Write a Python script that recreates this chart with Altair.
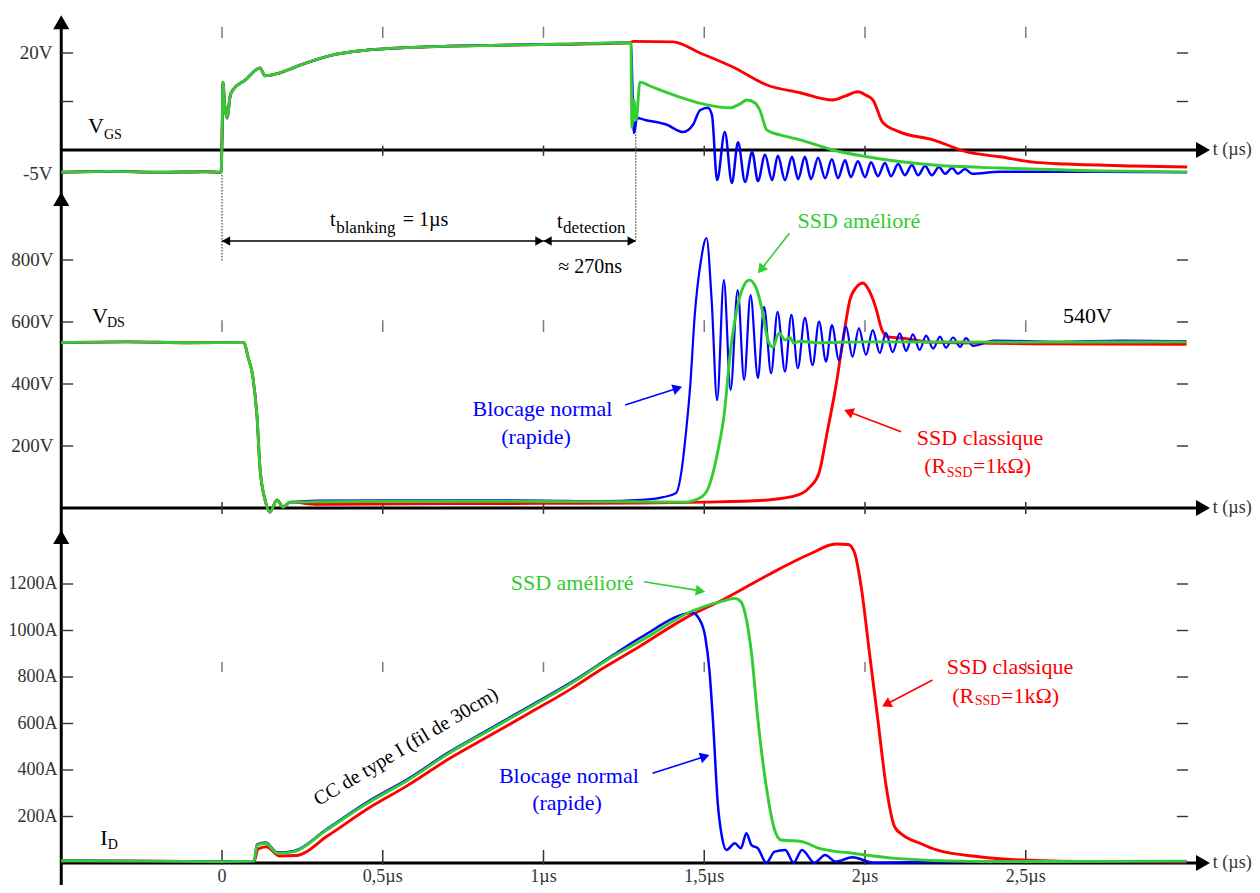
import math
import altair as alt
import pandas as pd

# ------------------------------------------------------------------ data
# time in µs ; V_GS in V ; V_DS in V ; I_D in A
vgs_common = [(-0.5, -4.6), (-0.35, -4.4), (-0.2, -4.6), (-0.05, -4.5), (-0.003, -4.6),
              (0.0, 2.0), (0.003, 14.0), (0.008, 9.5), (0.016, 6.6), (0.025, 11.0),
              (0.034, 12.4), (0.072, 14.4), (0.118, 16.9), (0.134, 15.3), (0.180, 15.9),
              (0.243, 17.5), (0.345, 19.6), (0.451, 20.6), (0.607, 21.2), (0.865, 21.6),
              (1.05, 21.8), (1.269, 22.1)]
vgs_red_tail = [(1.28, 22.4), (1.403, 22.3), (1.487, 20.0), (1.589, 17.1), (1.695, 13.4),
                (1.798, 11.8), (1.900, 10.3), (1.938, 11.1), (1.978, 12.0), (2.003, 11.3),
                (2.025, 10.3), (2.056, 5.6), (2.109, 3.7), (2.212, 2.1), (2.317, -0.4),
                (2.420, -1.4), (2.523, -2.5), (2.628, -2.9), (2.834, -3.3), (3.002, -3.5)]
vgs_green_tail = [(1.272, 22.0), (1.275, 4.7), (1.281, 10.3), (1.288, 6.2), (1.300, 14.0),
                  (1.331, 13.2), (1.362, 12.4), (1.434, 10.7), (1.509, 9.3), (1.580, 8.7),
                  (1.611, 9.5), (1.633, 10.3), (1.658, 9.7), (1.673, 8.2), (1.695, 4.1),
                  (1.736, 3.1), (1.798, 2.1), (1.900, 0.0), (2.006, -1.4), (2.212, -3.1),
                  (2.420, -3.7), (2.731, -4.3), (3.002, -4.5)]
vgs_blue_tail = [(1.272, 22.0), (1.281, 3.5), (1.291, 6.6), (1.316, 6.2), (1.384, 5.2),
                 (1.434, 3.7), (1.465, 5.2), (1.487, 8.2), (1.511, 8.7), (1.524, 7.2),
                 (1.540, -6.2), (1.564, 3.7), (1.586, -6.8), (1.605, 1.6), (1.627, -6.6),
                 (1.649, -0.4), (1.667, -6.4), (1.689, -1.0), (1.711, -6.2), (1.729, -1.2),
                 (1.751, -6.2), (1.773, -1.4), (1.792, -6.0), (1.813, -1.4), (1.832, -6.0),
                 (1.854, -1.6), (1.876, -5.8), (1.897, -1.9), (1.916, -5.8), (1.938, -2.1),
                 (1.956, -5.6), (1.978, -2.3), (2.000, -5.6), (2.019, -2.5), (2.040, -5.4),
                 (2.062, -2.7), (2.081, -5.4), (2.103, -2.9), (2.124, -5.2), (2.146, -3.1),
                 (2.165, -5.2), (2.187, -3.3), (2.208, -5.2), (2.230, -3.5), (2.249, -4.9),
                 (2.271, -3.7), (2.289, -4.9), (2.311, -3.9), (2.333, -4.9), (2.420, -4.5),
                 (2.731, -4.5), (3.002, -4.6)]

vds_common = [(-0.5, 534), (-0.3, 536), (-0.1, 533), (0.068, 534), (0.081, 487), (0.096, 423),
              (0.109, 294), (0.118, 132), (0.134, 26), (0.149, -13), (0.171, 26), (0.190, 3),
              (0.212, 19)]
vds_blue_tail = [(0.3, 24), (0.7, 25), (1.0, 24), (1.176, 22), (1.306, 26), (1.372, 35),
                 (1.412, 48), (1.431, 132), (1.443, 242), (1.457, 403), (1.470, 616),
                 (1.490, 800), (1.507, 871), (1.523, 671), (1.540, 348), (1.561, 735),
                 (1.582, 381), (1.604, 703), (1.624, 413), (1.644, 687), (1.667, 419),
                 (1.686, 649), (1.708, 435), (1.728, 633), (1.751, 440), (1.771, 623),
                 (1.791, 451), (1.813, 613), (1.837, 461), (1.857, 601), (1.879, 472),
                 (1.897, 590), (1.919, 477), (1.941, 585), (1.961, 488), (1.981, 580),
                 (2.003, 494), (2.024, 574), (2.046, 500), (2.065, 565), (2.086, 503),
                 (2.108, 563), (2.128, 507), (2.149, 560), (2.170, 510), (2.190, 556),
                 (2.212, 514), (2.233, 553), (2.252, 517), (2.274, 550), (2.296, 520),
                 (2.314, 548), (2.336, 523), (2.4, 540), (2.6, 536), (2.8, 540), (3.0, 538)]
vds_green_tail = [(0.3, 20), (0.7, 22), (1.0, 21), (1.3, 20), (1.437, 19), (1.490, 35),
                  (1.514, 68), (1.543, 187), (1.561, 294), (1.582, 510), (1.608, 671),
                  (1.624, 719), (1.640, 735), (1.660, 713), (1.680, 639), (1.698, 542),
                  (1.713, 519), (1.733, 565), (1.751, 542), (1.767, 550), (1.778, 532),
                  (1.798, 538), (1.85, 533), (2.0, 536), (2.5, 535), (3.0, 536)]
vds_red_tail = [(0.3, 12), (0.7, 14), (1.0, 15), (1.3, 16), (1.5, 19), (1.698, 26),
                (1.792, 42), (1.829, 68), (1.857, 113), (1.882, 242), (1.909, 390),
                (1.935, 565), (1.953, 671), (1.974, 713), (1.994, 726), (2.012, 703),
                (2.033, 648), (2.053, 574), (2.072, 552), (2.118, 548), (2.2, 535),
                (2.5, 530), (3.0, 528)]

id_common = [(-0.5, 10), (-0.2, 8), (0.0, 6), (0.1, 8)]
id_blue_tail = [(0.109, 80), (0.135, 88), (0.173, 45), (0.224, 52), (0.325, 145), (0.452, 262),
                (0.579, 362), (0.706, 477), (0.833, 577), (0.960, 677), (1.087, 778),
                (1.214, 892), (1.306, 973), (1.464, 1075), (1.484, 1050), (1.503, 973),
                (1.516, 830), (1.527, 615), (1.542, 257), (1.555, 113), (1.569, 56),
                (1.595, 85), (1.614, 63), (1.631, 128), (1.647, 77), (1.667, 63), (1.693, 1),
                (1.719, 49), (1.752, 56), (1.778, 1), (1.804, 56), (1.843, 1), (1.876, 34),
                (1.909, 6), (1.961, 25), (2.027, 1), (2.22, 5), (2.6, 6), (3.0, 6)]
id_green_tail = [(0.109, 77), (0.135, 85), (0.173, 42), (0.224, 49), (0.325, 142), (0.452, 257),
                 (0.579, 357), (0.706, 472), (0.833, 572), (0.960, 672), (1.087, 773),
                 (1.214, 887), (1.307, 959), (1.464, 1085), (1.569, 1131), (1.595, 1138),
                 (1.614, 1124), (1.627, 1074), (1.647, 902), (1.667, 615), (1.693, 328),
                 (1.719, 142), (1.739, 99), (1.804, 92), (1.857, 63), (1.961, 42),
                 (2.092, 20), (2.354, 6), (3.0, 8)]
id_red_tail = [(0.112, 60), (0.138, 70), (0.178, 30), (0.23, 32), (0.33, 118), (0.452, 232),
               (0.579, 335), (0.706, 448), (0.833, 548), (0.960, 648), (1.087, 750),
               (1.176, 830), (1.30, 932), (1.437, 1050), (1.569, 1140), (1.700, 1240),
               (1.830, 1330), (1.909, 1372), (1.948, 1370), (1.968, 1332), (1.988, 1189),
               (2.014, 902), (2.040, 615), (2.066, 328), (2.092, 156), (2.118, 120),
               (2.171, 85), (2.223, 56), (2.354, 27), (2.485, 13), (2.7, 6), (3.0, 4)]

# axis ticks and labels
t_ticks = [0.0, 0.5, 1.0, 1.5, 2.0, 2.5]
t_tick_labels = ["0", "0,5µs", "1µs", "1,5µs", "2µs", "2,5µs"]
vgs_ticks = [20, 10]
vgs_tick_labels = [(20, "20V"), (-5, "-5V")]
vds_ticks = [800, 600, 400, 200]
vds_tick_labels = [(800, "800V"), (600, "600V"), (400, "400V"), (200, "200V")]
id_ticks = [1200, 1000, 800, 600, 400, 200]
id_tick_labels = [(1200, "1200A"), (1000, "1000A"), (800, "800A"),
                  (600, "600A"), (400, "400A"), (200, "200A")]

# ------------------------------------------------------------------ styling
FONT = "Liberation Serif"
BLACK = "#000000"
GREY_TXT = "#333333"
GREY_TICK = "#7a7a7a"
RED, BLUE, GREEN = "#ff0000", "#0000ff", "#33cc33"

X_DOMAIN = [-0.5, 3.0]
X_RANGE = [53.25, 1178.5]
PANEL = {"vgs": ([0, 20], [142, 45]),
         "vds": ([0, 800], [500, 252]),
         "id": ([0, 1200], [855, 576])}
PX_T = (X_RANGE[1] - X_RANGE[0]) / (X_DOMAIN[1] - X_DOMAIN[0])


def px_v(p):
    d, r = PANEL[p]
    return (r[0] - r[1]) / (d[1] - d[0])


def X():
    return alt.X("t:Q", scale=alt.Scale(domain=X_DOMAIN, range=X_RANGE, nice=False, zero=False),
                 axis=None)


def Y(p):
    d, r = PANEL[p]
    return alt.Y("v:Q", scale=alt.Scale(domain=d, range=r, nice=False, zero=False), axis=None)


layers = []


def line(p, pts, color, width=2.9):
    df = pd.DataFrame(pts, columns=["t", "v"])
    df["i"] = range(len(df))
    layers.append(alt.Chart(df).mark_line(color=color, strokeWidth=width, strokeJoin="round",
                                          interpolate="monotone")
                  .encode(x=X(), y=Y(p), order=alt.Order("i:Q")))


def segs(p, items, color, width, dash=None):
    df = pd.DataFrame(items, columns=["t", "t2", "v", "v2"])
    kw = dict(color=color, strokeWidth=width)
    if dash:
        kw["strokeDash"] = dash
    layers.append(alt.Chart(df).mark_rule(**kw)
                  .encode(x=X(), x2="t2:Q", y=Y(p), y2="v2:Q"))


def texts(p, items, size, color=BLACK, align="center", angle=None):
    df = pd.DataFrame(items, columns=["t", "v", "label"])
    kw = dict(font=FONT, fontSize=size, color=color, align=align, baseline="middle")
    if angle is not None:
        kw["angle"] = angle
    layers.append(alt.Chart(df).mark_text(**kw).encode(x=X(), y=Y(p), text="label:N"))


def marks(p, items, shape, size, color, angle=0):
    df = pd.DataFrame(items, columns=["t", "v"])
    layers.append(alt.Chart(df).mark_point(shape=shape, size=size, filled=True, color=color,
                                           opacity=1, strokeWidth=0, angle=angle)
                  .encode(x=X(), y=Y(p)))


def head_h(size):
    return math.sqrt(3) / 4 * math.sqrt(size)


def arrow(p, start, end, color, size=120, width=1.6):
    pv = px_v(p)
    dx = (end[0] - start[0]) * PX_T
    dy = -(end[1] - start[1]) * pv
    L = math.hypot(dx, dy)
    ux, uy = dx / L, dy / L
    h = head_h(size)
    c = (end[0] - ux * h / PX_T, end[1] + uy * h / pv)
    ang = math.degrees(math.atan2(ux, -uy)) % 360
    segs(p, [(start[0], c[0], start[1], c[1])], color, width)
    marks(p, [c], "triangle-up", size, color, angle=ang)


# ------------------------------------------------------------------ axes
AX_SIZE = 260
AX_H = head_h(AX_SIZE)
T_END = 3.04
T_TIP = 3.073
# vertical axis, continuous through the three panels
segs("vgs", [(-0.5, -0.5, 26.5, -153.2)], BLACK, 3)
marks("vgs", [(-0.5, 27.8 - AX_H / px_v("vgs"))], "triangle-up", AX_SIZE, BLACK)
marks("vds", [(-0.5, 1019 - AX_H / px_v("vds"))], "triangle-up", AX_SIZE, BLACK)
marks("id", [(-0.5, 1432 - AX_H / px_v("id"))], "triangle-up", AX_SIZE, BLACK)

panel_info = {
    "vgs": dict(ticks=vgs_ticks, labels=vgs_tick_labels, up=(25.4, 23.1), cross=(0.9, -1.2),
                lab_t=-0.527, lab_size=19),
    "vds": dict(ticks=vds_ticks, labels=vds_tick_labels, up=(606, 568), cross=(19, -19),
                lab_t=-0.524, lab_size=19),
    "id": dict(ticks=id_ticks, labels=id_tick_labels, up=(864, 821), cross=(56, -6),
               lab_t=-0.512, lab_size=18),
}
for p, info in panel_info.items():
    # horizontal time axis with arrow
    segs(p, [(-0.5, T_END, 0, 0)], BLACK, 3)
    marks(p, [(T_TIP - AX_H / PX_T, 0)], "triangle-right", AX_SIZE, BLACK)
    texts(p, [(3.082, 0, "t (µs)")], 18, GREY_TXT, align="left")
    # y ticks left and right
    segs(p, [(-0.5, -0.463, v, v) for v in info["ticks"]], GREY_TXT, 1.4)
    segs(p, [(2.970, 3.005, v, v) for v in info["ticks"]], GREY_TXT, 1.4)
    texts(p, [(info["lab_t"], v, s) for v, s in info["labels"]], info["lab_size"], GREY_TXT,
          align="right")
    # small vertical time markers
    u1, u2 = info["up"]
    c1, c2 = info["cross"]
    segs(p, [(t, t, u1, u2) for t in t_ticks], GREY_TICK, 1.5)
    segs(p, [(t, t, c1, c2) for t in t_ticks], GREY_TXT, 1.5)

# time labels under the bottom axis
texts("id", [(t, -60, s) for t, s in zip(t_ticks, t_tick_labels)], 18, GREY_TXT)

# signal names
texts("vgs", [(-0.417, 4.85, "V")], 22, align="left")
texts("vgs", [(-0.367, 3.1, "GS")], 14, align="left")
texts("vds", [(-0.404, 620, "V")], 22, align="left")
texts("vds", [(-0.358, 597, "DS")], 14, align="left")
texts("id", [(-0.379, 108, "I")], 22, align="left")
texts("id", [(-0.355, 77, "D")], 14, align="left")

# ------------------------------------------------------------------ blanking / detection
segs("vds", [(0.0, 0.0, 1074, 794), (1.287, 1.287, 1235, 865)], "#444444", 1.2, dash=[1.5, 1.5])
DA = 90
segs("vds", [(0.0, 1.0, 861, 861), (1.0, 1.287, 861, 861)], BLACK, 1.5)
marks("vds", [(0.0 + head_h(DA) / PX_T, 861), (1.0 + head_h(DA) / PX_T, 861)],
      "triangle-left", DA, BLACK)
marks("vds", [(1.0 - head_h(DA) / PX_T, 861), (1.287 - head_h(DA) / PX_T, 861)],
      "triangle-right", DA, BLACK)
texts("vds", [(0.336, 929, "t"), (0.562, 929, "= 1µs"), (1.042, 923, "t")], 20, align="left")
texts("vds", [(0.355, 903, "blanking"), (1.061, 903, "detection")], 17, align="left")
texts("vds", [(1.145, 777, "≈ 270ns")], 20)

# ------------------------------------------------------------------ traces
line("vgs", vgs_common + vgs_red_tail, RED)
line("vgs", vgs_common + vgs_blue_tail, BLUE, 2.5)
line("vgs", vgs_common + vgs_green_tail, GREEN)
line("vds", vds_common + vds_red_tail, RED)
line("vds", vds_common + vds_blue_tail, BLUE, 2.2)
line("vds", vds_common + vds_green_tail, GREEN)
line("id", id_common + id_red_tail, RED)
line("id", id_common + id_blue_tail, BLUE, 2.5)
line("id", id_common + id_green_tail, GREEN)

# ------------------------------------------------------------------ annotations
texts("vds", [(2.616, 619, "540V")], 22, align="left")
texts("vds", [(1.981, 926, "SSD amélioré")], 22, GREEN)
arrow("vds", (1.765, 886), (1.667, 757), GREEN)
texts("vds", [(0.997, 319, "Blocage normal"), (0.977, 229, "(rapide)")], 22, BLUE)
arrow("vds", (1.254, 332), (1.431, 391), BLUE)
texts("vds", [(2.358, 226, "SSD classique")], 22, RED)
texts("vds", [(2.184, 135, "(R"), (2.336, 135, "=1kΩ)")], 22, RED, align="left")
texts("vds", [(2.254, 112, "SSD")], 14, RED, align="left")
arrow("vds", (2.112, 246), (1.935, 316), RED)

texts("id", [(0.572, 500, "CC de type I (fil de 30cm)")], 20, angle=329)
texts("id", [(1.089, 1204, "SSD amélioré")], 22, GREEN)
arrow("id", (1.313, 1210), (1.503, 1167), GREEN)
texts("id", [(1.079, 374, "Blocage normal"), (1.073, 258, "(rapide)")], 22, BLUE)
arrow("id", (1.339, 386), (1.516, 464), BLUE)
texts("id", [(2.451, 843, "SSD classique")], 22, RED)
texts("id", [(2.271, 718, "(R"), (2.423, 718, "=1kΩ)")], 22, RED, align="left")
texts("id", [(2.341, 695, "SSD")], 14, RED, align="left")
arrow("id", (2.210, 787), (2.053, 673), RED)

chart = (alt.layer(*layers)
         .resolve_scale(y="independent")
         .properties(width=1244, height=877, padding=0,
                     autosize=alt.AutoSizeParams(type="none"), background="white")
         .configure_view(stroke=None))

chart.save("out.html", embed_options={"renderer": "svg", "actions": False})
